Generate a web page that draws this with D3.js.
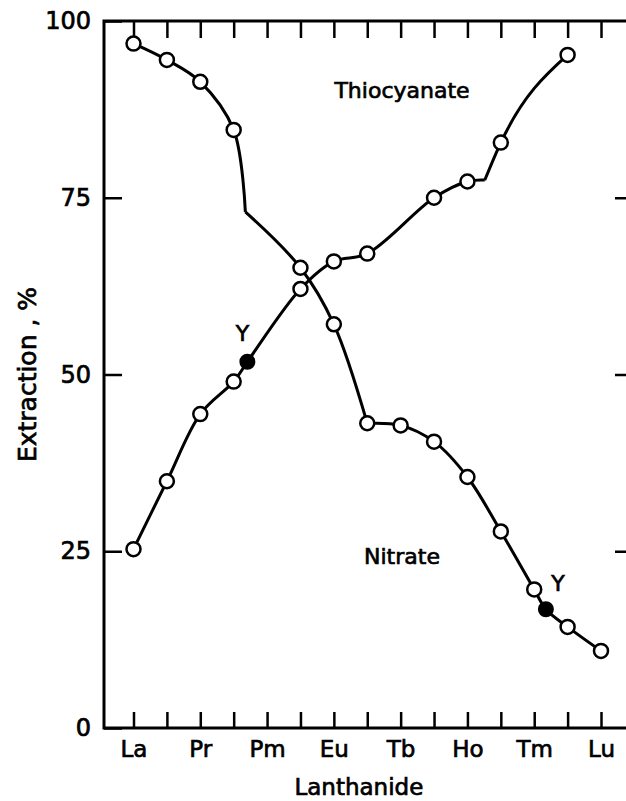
<!DOCTYPE html>
<html>
<head>
<meta charset="utf-8">
<script src="https://cdn.jsdelivr.net/npm/d3@7/dist/d3.min.js"></script>
<style>
  html, body { margin: 0; padding: 0; background: #fff; }
  svg { display: block; }
  text { font-family: "DejaVu Sans", sans-serif; fill: #000; stroke: #000; stroke-width: 0.7px; }
</style>
</head>
<body>
<script>
// Lanthanide series, in atomic-number order
const lanthanides = ["La", "Ce", "Pr", "Nd", "Pm", "Sm", "Eu", "Gd", "Tb", "Dy", "Ho", "Er", "Tm", "Yb", "Lu"];
const labelledElements = ["La", "Pr", "Pm", "Eu", "Tb", "Ho", "Tm", "Lu"];

// Extraction, % (null = not measured)
const nitrateValues      = [96.8, 94.5, 91.4, 84.6, null, 65.1, 57.1, 43.1, 42.8, 40.5, 35.5, 27.8, 19.6, 14.3, 10.9];
const thiocyanateValues  = [25.3, 34.9, 44.4, 49.0, null, 62.1, 66.0, 67.1, null, 75.0, 77.3, 82.8, null, 95.2, null];

// Yttrium, placed between lanthanides: [position on the series, extraction %]
const yttriumNitrate     = [12.35, 16.8];
const yttriumThiocyanate = [3.41, 51.8];

// Breaks in the drawn curves: [position on the series, extraction %]
const nitrateBreaks      = [[3.35, 73.0], [7, 43.1]];
const thiocyanateBreaks  = [[10.52, 77.5]];

const yTicks = [0, 25, 50, 75, 100];

const W = 626, H = 801;
const svg = d3.select("body").append("svg").attr("width", W).attr("height", H);

const x = d3.scaleLinear().domain([0, lanthanides.length - 1]).range([133.5, 601]);
const y = d3.scaleLinear().domain([0, 100]).range([728, 21]);
const frameLeft = 104, frameRight = 632, frameTop = 21, frameBottom = 728;

// Frame
svg.append("path")
  .attr("d", `M${frameRight},${frameTop}H${frameLeft}V${frameBottom}H${frameRight}`)
  .attr("fill", "none").attr("stroke", "#000").attr("stroke-width", 3);

// Inward ticks on all sides
const axisStyle = g => {
  g.select(".domain").remove();
  g.selectAll(".tick line").attr("stroke", "#000").attr("stroke-width", 2.5);
  g.selectAll(".tick text").attr("fill", "#000").attr("stroke", "#000").attr("stroke-width", 0.7)
    .style("font-family", '"DejaVu Sans", sans-serif');
};

svg.append("g").attr("transform", `translate(0,${frameBottom})`)
  .call(d3.axisBottom(x).tickValues(d3.range(lanthanides.length))
    .tickSizeInner(-16).tickSizeOuter(0).tickPadding(13)
    .tickFormat(i => labelledElements.includes(lanthanides[i]) ? lanthanides[i] : ""))
  .call(axisStyle)
  .call(g => g.selectAll(".tick text").style("font-size", "23px"));

svg.append("g").attr("transform", `translate(0,${frameTop})`)
  .call(d3.axisTop(x).tickValues(d3.range(lanthanides.length))
    .tickSizeInner(-17).tickSizeOuter(0).tickFormat(""))
  .call(axisStyle);

svg.append("g").attr("transform", `translate(${frameLeft},0)`)
  .call(d3.axisLeft(y).tickValues(yTicks)
    .tickSizeInner(-18).tickSizeOuter(0).tickPadding(13))
  .call(axisStyle)
  .call(g => g.selectAll(".tick text").style("font-size", "24px"));

svg.append("g").attr("transform", `translate(${frameRight},0)`)
  .call(d3.axisRight(y).tickValues(yTicks.slice(1, -1))
    .tickSizeInner(-17).tickSizeOuter(0).tickFormat(""))
  .call(axisStyle);

// Axis titles
svg.append("text")
  .attr("x", x(6.75)).attr("y", 795)
  .attr("text-anchor", "middle").style("font-size", "23px")
  .text("Lanthanide");

svg.append("text")
  .attr("transform", `translate(36,${y(50)}) rotate(-90)`)
  .attr("text-anchor", "middle").style("font-size", "25px")
  .text("Extraction , %");

// Build curve segments: measured points plus yttrium, split at the breaks
function seriesPoints(values, yt, breaks) {
  const pts = values.map((v, i) => v == null ? null : [i, v]).filter(Boolean);
  pts.push(yt);
  breaks.forEach(b => { if (!pts.some(p => p[0] === b[0])) pts.push(b); });
  pts.sort((a, b) => a[0] - b[0]);
  const segs = [];
  let cur = [];
  pts.forEach(p => {
    cur.push(p);
    if (breaks.some(b => b[0] === p[0])) { segs.push(cur); cur = [p]; }
  });
  if (cur.length > 1) segs.push(cur);
  return segs;
}

// Long runs use a centripetal spline; short three-point runs a monotone one
const smoothLine = d3.line().x(d => x(d[0])).y(d => y(d[1])).curve(d3.curveCatmullRom.alpha(0.5));
const shortLine = d3.line().x(d => x(d[0])).y(d => y(d[1])).curve(d3.curveMonotoneX);

[seriesPoints(nitrateValues, yttriumNitrate, nitrateBreaks),
 seriesPoints(thiocyanateValues, yttriumThiocyanate, thiocyanateBreaks)]
  .forEach(segs => segs.forEach(seg => {
    svg.append("path").attr("d", (seg.length <= 3 ? shortLine : smoothLine)(seg))
      .attr("fill", "none").attr("stroke", "#000")
      .attr("stroke-width", 3).attr("stroke-linejoin", "round");
  }));

// Markers: open circles for lanthanides
const open = [];
nitrateValues.forEach((v, i) => { if (v != null) open.push([i, v]); });
thiocyanateValues.forEach((v, i) => { if (v != null) open.push([i, v]); });

svg.append("g").selectAll("circle").data(open).join("circle")
  .attr("cx", d => x(d[0])).attr("cy", d => y(d[1])).attr("r", 7)
  .attr("fill", "#fff").attr("stroke", "#000").attr("stroke-width", 2.5);

// Filled circles for yttrium
svg.append("g").selectAll("circle").data([yttriumNitrate, yttriumThiocyanate]).join("circle")
  .attr("cx", d => x(d[0])).attr("cy", d => y(d[1])).attr("r", 7)
  .attr("fill", "#000").attr("stroke", "#000").attr("stroke-width", 2);

svg.append("text")
  .attr("x", x(yttriumThiocyanate[0]) - 5).attr("y", y(yttriumThiocyanate[1]) - 21)
  .attr("text-anchor", "middle").style("font-size", "22px").text("Y");
svg.append("text")
  .attr("x", x(yttriumNitrate[0]) + 12).attr("y", y(yttriumNitrate[1]) - 18)
  .attr("text-anchor", "middle").style("font-size", "22px").text("Y");

// Series labels
svg.append("text").attr("x", 402).attr("y", 98)
  .attr("text-anchor", "middle").style("font-size", "22px").text("Thiocyanate");
svg.append("text").attr("x", 402).attr("y", 564)
  .attr("text-anchor", "middle").style("font-size", "22px").text("Nitrate");
</script>
</body>
</html>
